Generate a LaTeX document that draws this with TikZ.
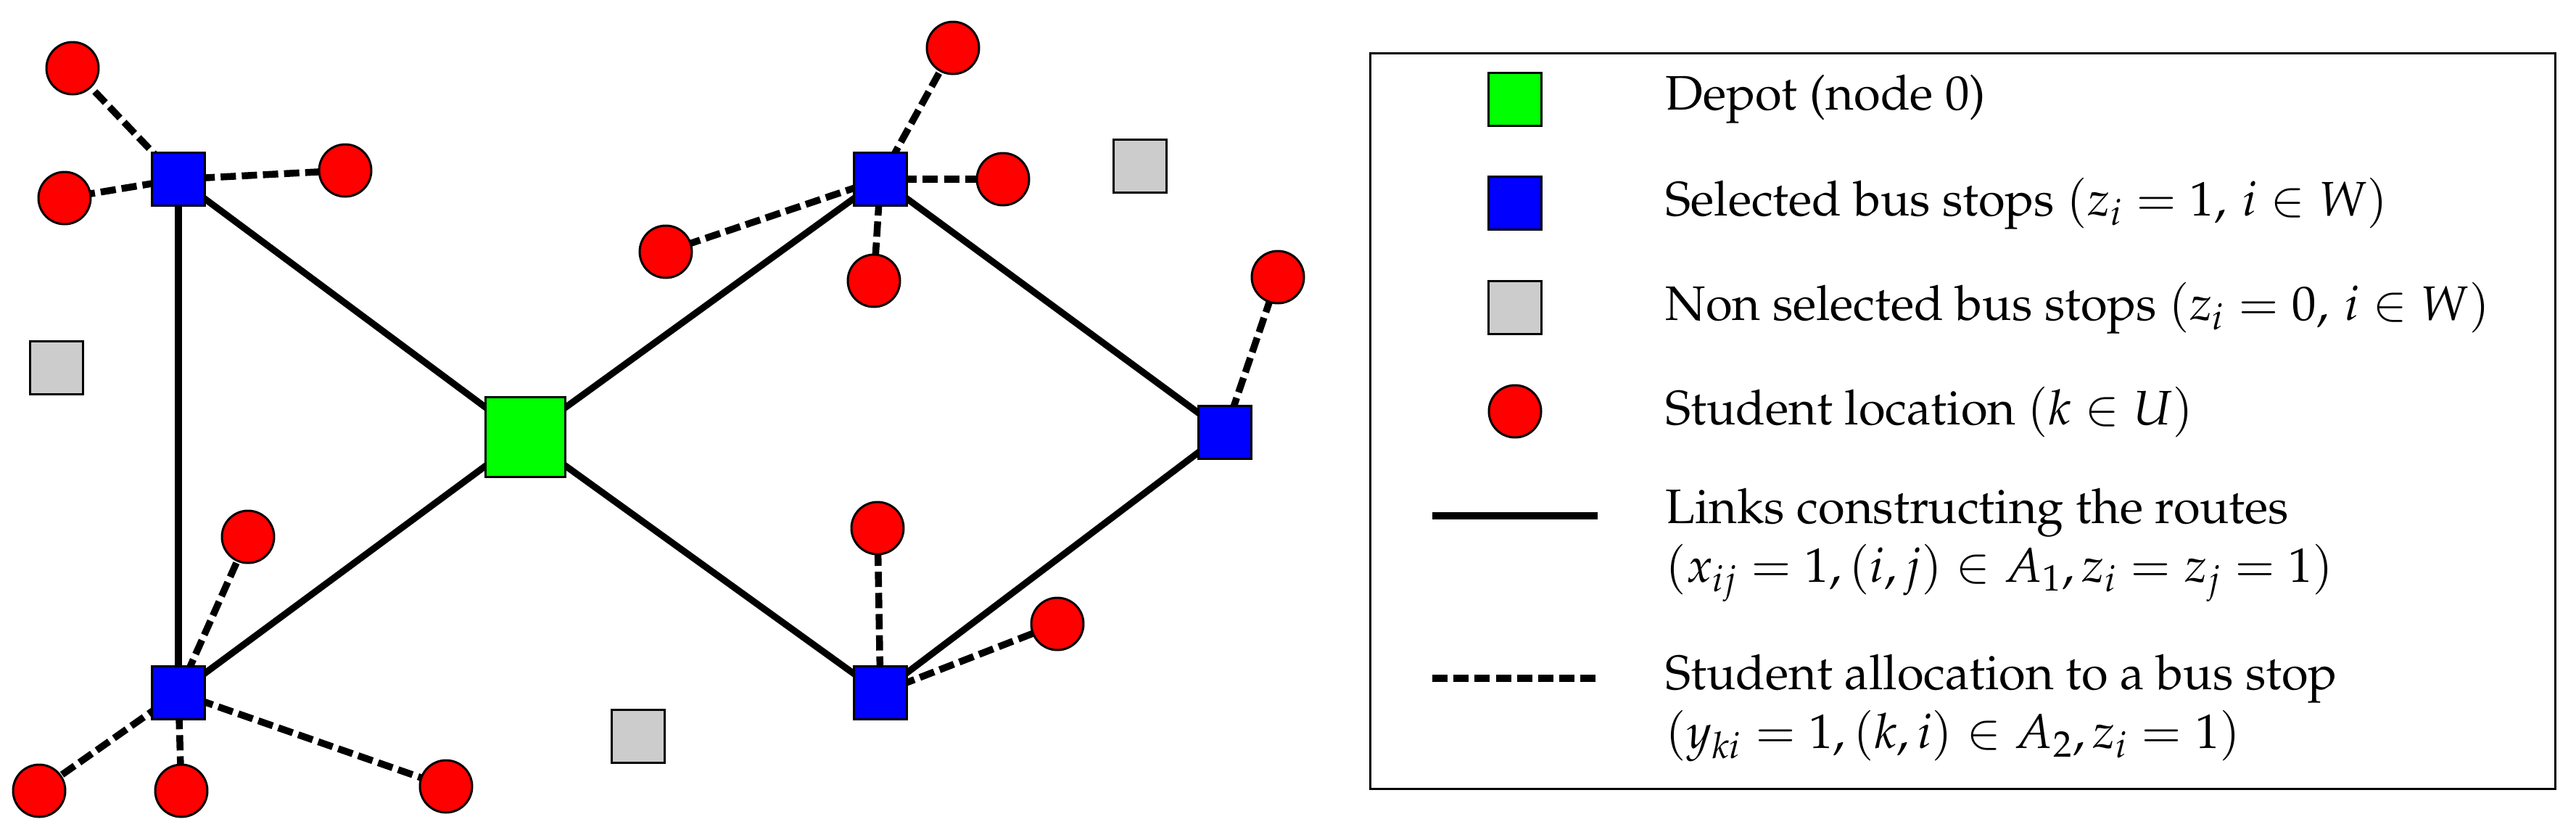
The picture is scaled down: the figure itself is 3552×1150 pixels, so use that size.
\documentclass[tikz,border=0pt]{standalone}
\usepackage[T1]{fontenc}
\usepackage{mathpazo}
\usetikzlibrary{backgrounds}
\definecolor{stopgray}{RGB}{204,204,204}
\definecolor{depotgreen}{RGB}{0,255,0}
\definecolor{stopblue}{RGB}{0,0,255}
\definecolor{studred}{RGB}{255,0,0}
\tikzset{
  boxnode/.style={draw=black, line width=0.85pt, minimum size=7.3mm, inner sep=0pt},
  depotnode/.style={boxnode, fill=depotgreen, minimum size=11mm},
  selstop/.style={boxnode, fill=stopblue},
  nonstop/.style={boxnode, fill=stopgray},
  student/.style={circle, draw=black, line width=0.85pt, fill=studred, minimum size=7.2mm, inner sep=0pt},
  routelink/.style={line width=2.6pt},
  alloclink/.style={line width=2.7pt, dash pattern=on 6pt off 2.3pt},
  legtext/.style={anchor=west, inner sep=0pt, align=left, font=\fontsize{19}{23}\selectfont},
}
\begin{document}
\begin{tikzpicture}[x=0.1mm, y=-0.1mm]
\useasboundingbox (0,0) rectangle (3552,1150);
% depot and stops
\node[depotnode] (D) at (724,602) {};
\node[selstop] (B1) at (246,247) {};
\node[selstop] (B2) at (1214,247) {};
\node[selstop] (B3) at (1689,596) {};
\node[selstop] (B4) at (246,955) {};
\node[selstop] (B5) at (1214,955) {};
\node[nonstop] (G1) at (78,507) {};
\node[nonstop] (G2) at (1572,229) {};
\node[nonstop] (G3) at (880,1015) {};
% students
\node[student] (R1) at (100,94) {};
\node[student] (R2) at (89,273) {};
\node[student] (R3) at (476,235) {};
\node[student] (R4) at (1314,66) {};
\node[student] (R5) at (1383,247) {};
\node[student] (R6) at (918,347) {};
\node[student] (R7) at (1205,387) {};
\node[student] (R8) at (1762,382) {};
\node[student] (R9) at (342,740) {};
\node[student] (R10) at (54,1090) {};
\node[student] (R11) at (250,1090) {};
\node[student] (R12) at (615,1084) {};
\node[student] (R13) at (1210,728) {};
\node[student] (R14) at (1458,860) {};
\begin{pgfonlayer}{background}
\draw[routelink] (B1.center) -- (B4.center);
\draw[routelink] (B1.center) -- (D.center);
\draw[routelink] (B4.center) -- (D.center);
\draw[routelink] (D.center) -- (B2.center);
\draw[routelink] (D.center) -- (B5.center);
\draw[routelink] (B2.center) -- (B3.center);
\draw[routelink] (B5.center) -- (B3.center);
\draw[alloclink] (B1.center) -- (R1.center);
\draw[alloclink] (B1.center) -- (R2.center);
\draw[alloclink] (B1.center) -- (R3.center);
\draw[alloclink] (B2.center) -- (R4.center);
\draw[alloclink] (B2.center) -- (R5.center);
\draw[alloclink] (B2.center) -- (R6.center);
\draw[alloclink] (B2.center) -- (R7.center);
\draw[alloclink] (B3.center) -- (R8.center);
\draw[alloclink] (B4.center) -- (R9.center);
\draw[alloclink] (B4.center) -- (R10.center);
\draw[alloclink] (B4.center) -- (R11.center);
\draw[alloclink] (B4.center) -- (R12.center);
\draw[alloclink] (B5.center) -- (R13.center);
\draw[alloclink] (B5.center) -- (R14.center);
\end{pgfonlayer}
% legend
\node[draw=black, line width=0.9pt, minimum width=163.4mm, minimum height=101.4mm, inner sep=0pt, anchor=north west] (leg) at (1888,72) {};
\node[depotnode, minimum size=7.3mm] (LD) at (2089,137) {};
\node[selstop] (LB) at (2089,280) {};
\node[nonstop] (LG) at (2089,424) {};
\node[student] (LR) at (2089,567) {};
\coordinate (LS1) at (1975,711);
\coordinate (LS2) at (2203,711);
\coordinate (LA1) at (1975,935);
\coordinate (LA2) at (2203,935);
\draw[line width=2.6pt] (LS1) -- (LS2);
\draw[alloclink] (LA1) -- (LA2);
\node[legtext] (TD) at (2296,137) {Depot (node 0)};
\node[legtext] (TB) at (2296,281) {Selected bus stops $(z_i=1,\, i\in W)$};
\node[legtext] (TG) at (2296,425) {Non selected bus stops $(z_i=0,\, i\in W)$};
\node[legtext] (TR) at (2296,568) {Student location $(k\in U)$};
\node[legtext] (TS) at (2296,751) {Links constructing the routes\\$(x_{ij}=1,(i,j)\in A_1,z_i=z_j=1)$};
\node[legtext] (TA) at (2296,976) {Student allocation to a bus stop\\$(y_{ki}=1,(k,i)\in A_2,z_i=1)$};
\end{tikzpicture}
\end{document}
